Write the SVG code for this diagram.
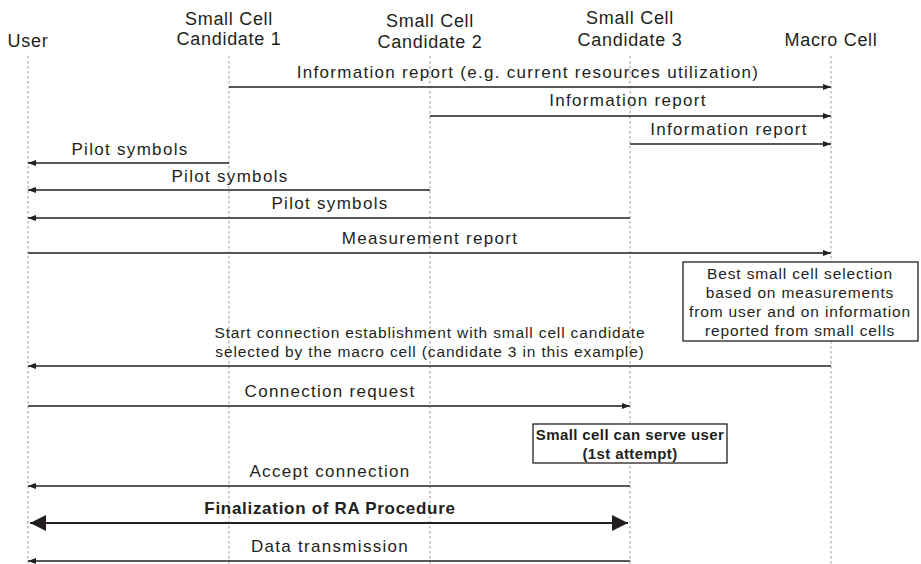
<svg xmlns="http://www.w3.org/2000/svg" width="921" height="564" viewBox="0 0 921 564">
<style>
text{font-family:"Liberation Sans",Arial,sans-serif;fill:#231f20}
.h{font-size:18px;letter-spacing:0.7px;text-anchor:middle}
.m{font-size:17px;letter-spacing:1.3px;text-anchor:middle}
.s{font-size:15.5px;letter-spacing:0.85px;text-anchor:middle}
.b{font-size:15px;font-weight:bold;letter-spacing:0.4px;text-anchor:middle}
.bl{font-size:17px;font-weight:bold;letter-spacing:0.7px;text-anchor:middle}
.life{stroke:#9a9a9a;stroke-width:1;stroke-dasharray:2.5,2.5;fill:none}
.msg{stroke:#231f20;stroke-width:1.3;fill:none}
.msg2{stroke:#555;stroke-width:1.8;fill:none}
.box{fill:#fff;stroke:#231f20;stroke-width:1.3}
</style>
<defs>
<marker id="a" viewBox="0 0 8 6" refX="8" refY="3" markerWidth="8" markerHeight="6" markerUnits="userSpaceOnUse" orient="auto"><path d="M0,0L8,3L0,6z" fill="#231f20"/></marker>
<marker id="big" viewBox="0 0 16 16" refX="16" refY="8" markerWidth="16" markerHeight="16" markerUnits="userSpaceOnUse" orient="auto-start-reverse"><path d="M0,0L16,8L0,16z" fill="#231f20"/></marker>
</defs>
<g id="user"><text class="h" x="28" y="47">User</text><line class="life" x1="28" y1="56" x2="28" y2="564"/></g>
<g id="cand1"><text class="h" x="229" y="25">Small Cell</text><text class="h" x="229" y="45">Candidate 1</text><line class="life" x1="229" y1="56" x2="229" y2="564"/></g>
<g id="cand2"><text class="h" x="430" y="27">Small Cell</text><text class="h" x="430" y="48">Candidate 2</text><line class="life" x1="430" y1="56" x2="430" y2="564"/></g>
<g id="cand3"><text class="h" x="630" y="24">Small Cell</text><text class="h" x="630" y="46">Candidate 3</text><line class="life" x1="630" y1="56" x2="630" y2="564"/></g>
<g id="macro"><text class="h" x="831" y="46">Macro Cell</text><line class="life" x1="831" y1="56" x2="831" y2="564"/></g>
<g id="selection"><rect class="box" x="683" y="262" width="235" height="79"/><text class="s" x="800" y="279">Best small cell selection</text><text class="s" x="800" y="298">based on measurements</text><text class="s" x="800" y="317">from user and on information</text><text class="s" x="800" y="336">reported from small cells</text></g>
<g id="serve"><rect class="box" x="533" y="424" width="194" height="39"/><text class="b" x="630" y="440">Small cell can serve user</text><text class="b" x="630" y="459">(1st attempt)</text></g>
<g id="connectors">
<line class="msg" x1="229" y1="87" x2="831" y2="87" marker-end="url(#a)"/><text class="m" x="528" y="78">Information report (e.g. current resources utilization)</text>
<line class="msg" x1="430" y1="116" x2="831" y2="116" marker-end="url(#a)"/><text class="m" x="628" y="106">Information report</text>
<line class="msg" x1="630" y1="144" x2="831" y2="144" marker-end="url(#a)"/><text class="m" x="729" y="135">Information report</text>
<line class="msg" x1="229" y1="163" x2="28" y2="163" marker-end="url(#a)"/><text class="m" x="130" y="155">Pilot symbols</text>
<line class="msg" x1="430" y1="190" x2="28" y2="190" marker-end="url(#a)"/><text class="m" x="230" y="182">Pilot symbols</text>
<line class="msg" x1="630" y1="218" x2="28" y2="218" marker-end="url(#a)"/><text class="m" x="330" y="209">Pilot symbols</text>
<line class="msg2" x1="28" y1="253" x2="831" y2="253" marker-end="url(#a)"/><text class="m" x="430" y="244">Measurement report</text>
<line class="msg" x1="831" y1="366" x2="28" y2="366" marker-end="url(#a)"/><text class="s" x="430" y="338">Start connection establishment with small cell candidate</text><text class="s" x="430" y="357">selected by the macro cell (candidate 3 in this example)</text>
<line class="msg2" x1="28" y1="406" x2="630" y2="406" marker-end="url(#a)"/><text class="m" x="330" y="397">Connection request</text>
<line class="msg" x1="630" y1="486" x2="28" y2="486" marker-end="url(#a)"/><text class="m" x="330" y="477">Accept connection</text>
<line x1="30" y1="523" x2="628" y2="523" stroke="#231f20" stroke-width="2" marker-start="url(#big)" marker-end="url(#big)"/><text class="bl" x="330" y="514">Finalization of RA Procedure</text>
<line class="msg" x1="630" y1="561" x2="28" y2="561" marker-end="url(#a)"/><text class="m" x="330" y="552">Data transmission</text>
</g>
</svg>
